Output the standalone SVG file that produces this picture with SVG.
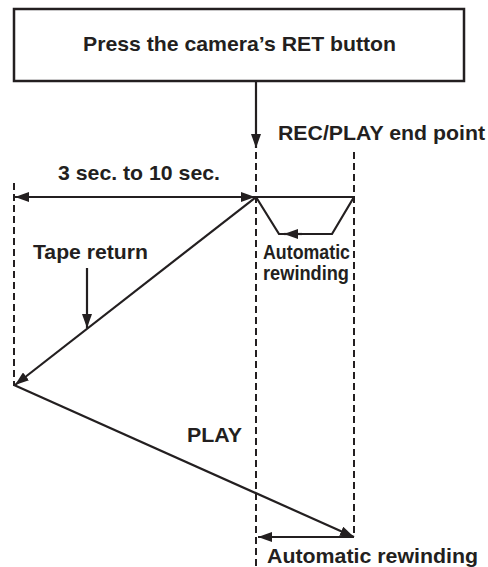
<svg xmlns="http://www.w3.org/2000/svg" width="488" height="567" viewBox="0 0 488 567">
<style>
text{font-family:"Liberation Sans",Arial,sans-serif;font-weight:bold;fill:#231f20}
.ln{stroke:#231f20;stroke-width:2.2;fill:none}
.ds{stroke:#231f20;stroke-width:2;fill:none;stroke-dasharray:7 4}
.ah{fill:#231f20}
</style>
<defs>
<marker id="arr" viewBox="0 0 14 10" refX="14" refY="5" markerWidth="14" markerHeight="10" markerUnits="userSpaceOnUse" orient="auto-start-reverse">
<path d="M0,0 L14,5 L0,10 z" class="ah"/>
</marker>
</defs>
<g id="box">
<rect x="14" y="9" width="450" height="72" fill="#fff" stroke="#231f20" stroke-width="2.5"/>
<text x="239.5" y="51" font-size="21" text-anchor="middle" textLength="313" lengthAdjust="spacingAndGlyphs">Press the camera’s RET button</text>
</g>
<g id="guides">
<line class="ds" x1="14" y1="183" x2="14" y2="386"/>
<line class="ds" x1="256" y1="152" x2="256" y2="567"/>
<line class="ds" x1="354" y1="152" x2="354" y2="537"/>
</g>
<g id="connectors">
<line class="ln" x1="256" y1="81" x2="256" y2="148" marker-end="url(#arr)"/>
<line class="ln" x1="15" y1="197" x2="255" y2="197" marker-start="url(#arr)" marker-end="url(#arr)"/>
<line class="ln" x1="256" y1="197" x2="354" y2="197"/>
<polyline class="ln" points="354,197 332,234 279,234 256,197"/>
<line class="ln" x1="302" y1="234" x2="284" y2="234" marker-end="url(#arr)"/>
<line class="ln" x1="256" y1="197" x2="15" y2="385" marker-end="url(#arr)"/>
<line class="ln" x1="87" y1="268" x2="87" y2="328" marker-end="url(#arr)"/>
<line class="ln" x1="14" y1="385" x2="354" y2="537" marker-end="url(#arr)"/>
<line class="ln" x1="354" y1="537" x2="258" y2="537" marker-end="url(#arr)"/>
</g>
<g id="labels">
<text x="278" y="140" font-size="21" textLength="207" lengthAdjust="spacingAndGlyphs">REC/PLAY end point</text>
<text x="58" y="180" font-size="21" textLength="162" lengthAdjust="spacingAndGlyphs">3 sec. to 10 sec.</text>
<text x="33" y="259" font-size="21" textLength="115" lengthAdjust="spacingAndGlyphs">Tape return</text>
<text x="263" y="259" font-size="19.5" textLength="87" lengthAdjust="spacingAndGlyphs">Automatic</text>
<text x="263" y="280" font-size="19.5" textLength="86" lengthAdjust="spacingAndGlyphs">rewinding</text>
<text x="187" y="442" font-size="21" textLength="55" lengthAdjust="spacingAndGlyphs">PLAY</text>
<text x="267" y="563" font-size="21" textLength="211" lengthAdjust="spacingAndGlyphs">Automatic rewinding</text>
</g>
</svg>
